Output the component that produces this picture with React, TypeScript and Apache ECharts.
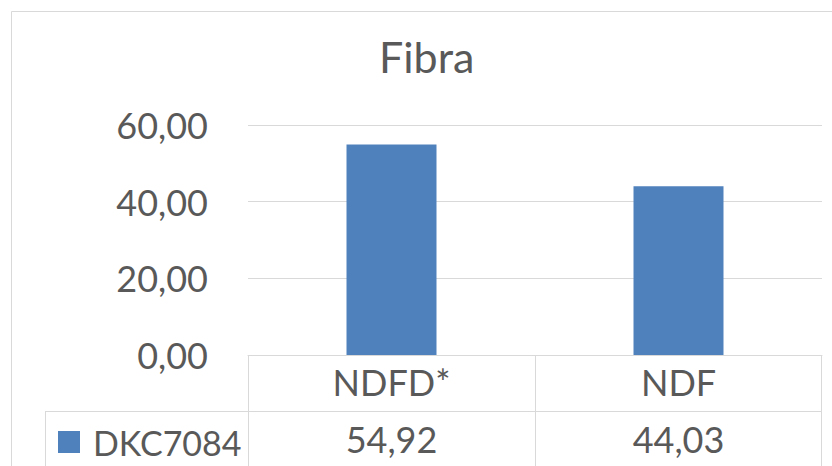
import React, { useEffect, useRef } from "react";
import * as echarts from "echarts";

const chartTitle = "Fibra";
const categories = ["NDFD*", "NDF"];
const seriesName = "DKC7084";
const values = [54.92, 44.03];
const yMin = 0;
const yMax = 60;
const yStep = 20;

const fmt = (v: number) => v.toFixed(2).replace(".", ",");

const FONT = "Lato, 'Open Sans', sans-serif";
const TEXT = "#595959";
const LINE = "#d9d9d9";
const BAR = "#4f81bd";

export default function App() {
  const ref = useRef<HTMLDivElement>(null);
  useEffect(() => {
    if (!ref.current) return;
    const chart = echarts.init(ref.current, undefined, { renderer: "svg" });
    const lineStyle = { stroke: LINE, lineWidth: 1 };
    chart.setOption({
      animation: false,
      backgroundColor: "#ffffff",
      textStyle: { fontFamily: FONT },
      title: {
        text: chartTitle,
        left: 374,
        top: 30,
        textStyle: { fontFamily: FONT, fontSize: 43, fontWeight: "normal", color: TEXT },
      },
      legend: {
        data: [seriesName],
        left: 58,
        top: 424,
        padding: 0,
        icon: "rect",
        itemWidth: 22,
        itemHeight: 22,
        textStyle: { fontFamily: FONT, fontSize: 34, color: TEXT, lineHeight: 36, padding: [0, 0, 0, 8] },
      },
      grid: { left: 248, right: 10, top: 125, bottom: 111, containLabel: false },
      xAxis: [
        {
          type: "category",
          data: categories,
          axisLine: { show: true, lineStyle: { color: LINE, width: 1 } },
          axisTick: { show: false },
          axisLabel: { fontFamily: FONT, fontSize: 36, color: TEXT, margin: 27, verticalAlign: "middle" },
        },
        {
          type: "category",
          data: categories,
          position: "bottom",
          axisLine: { show: false },
          axisTick: { show: false },
          axisLabel: {
            fontFamily: FONT,
            fontSize: 36,
            color: TEXT,
            margin: 84,
            verticalAlign: "middle",
            formatter: (_v: string, i: number) => fmt(values[i]),
          },
        },
      ],
      yAxis: {
        type: "value",
        min: yMin,
        max: yMax,
        interval: yStep,
        axisLine: { show: false },
        axisTick: { show: false },
        splitLine: { lineStyle: { color: LINE, width: 1 } },
        axisLabel: { fontFamily: FONT, fontSize: 36, color: TEXT, margin: 40, formatter: (v: number) => fmt(v) },
      },
      series: [
        {
          name: seriesName,
          type: "bar",
          data: values,
          barWidth: 90,
          itemStyle: { color: BAR },
        },
      ],
      graphic: [
        { type: "rect", shape: { x: 11.5, y: 11.5, width: 900, height: 600 }, style: { fill: "none", ...lineStyle }, silent: true },
        { type: "line", shape: { x1: 248.5, y1: 355, x2: 248.5, y2: 411 }, style: lineStyle },
        { type: "line", shape: { x1: 535.5, y1: 355, x2: 535.5, y2: 466 }, style: lineStyle },
        { type: "line", shape: { x1: 821.5, y1: 355, x2: 821.5, y2: 466 }, style: lineStyle },
        { type: "line", shape: { x1: 45, y1: 411.5, x2: 822, y2: 411.5 }, style: lineStyle },
        { type: "line", shape: { x1: 45.5, y1: 411, x2: 45.5, y2: 466 }, style: lineStyle },
        { type: "line", shape: { x1: 248.5, y1: 411, x2: 248.5, y2: 466 }, style: lineStyle },
      ],
    });
    return () => chart.dispose();
  }, []);
  return <div ref={ref} style={{ position: "fixed", left: 0, top: 0, width: 832, height: 466 }} />;
}
